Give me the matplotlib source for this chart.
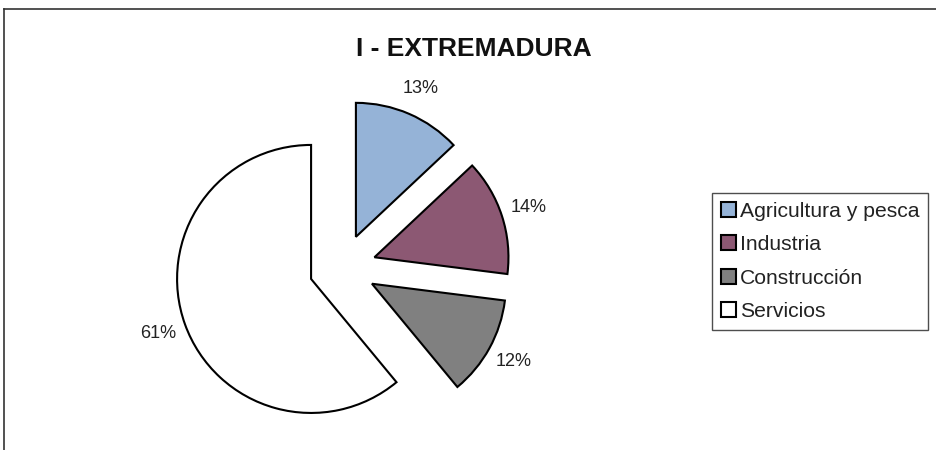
import matplotlib.pyplot as plt
from matplotlib.lines import Line2D

# data
sectors = ['Agricultura y pesca', 'Industria', 'Construcción', 'Servicios']
shares = [13, 14, 12, 61]
colors = ['#95B3D7', '#8C5873', '#808080', '#FFFFFF']

plt.rcParams['font.family'] = ['Liberation Sans', 'DejaVu Sans']

fig = plt.figure(figsize=(9.37, 4.5), dpi=100)
ax = fig.add_axes([0, 0, 1, 1])

wedges, texts, autotexts = ax.pie(
    shares, colors=colors, startangle=90, counterclock=False,
    explode=[0.25] * len(shares), radius=1.0,
    autopct='%1.0f%%', pctdistance=1.21,
    wedgeprops=dict(edgecolor='black', linewidth=1.5),
    textprops=dict(fontsize=13, color='#222222'))

# place the pie so the centre sits at about (343, 268) px with r = 134 px
scale = 134.0
cx, cy = 342.6, 267.6
ax.set_xlim(-cx / scale, (937 - cx) / scale)
ax.set_ylim(-(450 - cy) / scale, cy / scale)
ax.set_aspect('auto')
ax.axis('off')

fig.text(474 / 937, 1 - 49 / 450, 'I - EXTREMADURA', ha='center', va='center',
         fontsize=19, fontweight='bold', color='#111111')

leg = fig.legend(wedges, sectors, loc='upper left',
                 bbox_to_anchor=(712 / 937, 1 - 193 / 450), borderaxespad=0,
                 fontsize=15.2, frameon=True, fancybox=False,
                 handlelength=0.7, handleheight=0.7, handletextpad=0.2,
                 labelspacing=0.68, borderpad=0.42)
leg.get_frame().set_edgecolor('#222222')
leg.get_frame().set_linewidth(1.0)
for t in leg.get_texts():
    t.set_color('#222222')

# outer frame (top and left edges only)
fig.add_artist(Line2D([4 / 937, 1], [1 - 9 / 450, 1 - 9 / 450],
                      transform=fig.transFigure, color='#333333', lw=1.2))
fig.add_artist(Line2D([4 / 937, 4 / 937], [0, 1 - 9 / 450],
                      transform=fig.transFigure, color='#333333', lw=1.2))

fig.savefig('out.png', dpi=100)
